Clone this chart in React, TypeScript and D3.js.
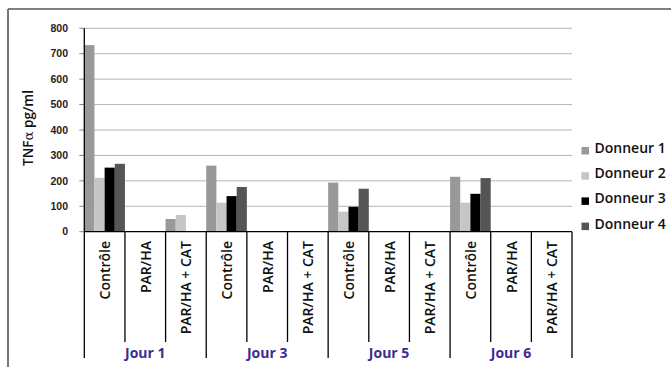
import React from "react";
import * as d3 from "d3";

// Days, treatments and donors
const groups = ["Jour 1", "Jour 3", "Jour 5", "Jour 6"];
const treatments = ["Contrôle", "PAR/HA", "PAR/HA + CAT"];
const donors = ["Donneur 1", "Donneur 2", "Donneur 3", "Donneur 4"];

// TNFα (pg/ml) per category (day × treatment), null = no measurement
const donneur1 = [734, null, 50, 260, null, null, 193, null, null, 216, null, null];
const donneur2 = [212, null, 66, 114, null, null, 79, null, null, 114, null, null];
const donneur3 = [252, null, null, 140, null, null, 98, null, null, 149, null, null];
const donneur4 = [267, null, null, 176, null, null, 169, null, null, 211, null, null];

const yTicks = [0, 100, 200, 300, 400, 500, 600, 700, 800];

const seriesValues = [donneur1, donneur2, donneur3, donneur4];
const colors = ["#999999", "#c6c6c6", "#000000", "#555555"];

const W = 671;
const H = 367;
const left = 84.3;
const right = 572;
const top = 28.3;
const bottom = 231.7;

const categories = groups.flatMap((g) => treatments.map((t) => `${g}|${t}`));

export default function App() {
  const x = d3.scaleBand<string>().domain(categories).range([left, right]).padding(0);
  const inner = d3.scaleBand<string>().domain(donors).range([0, x.bandwidth()]).padding(0);
  const y = d3.scaleLinear().domain([0, 800]).range([bottom, top]);

  const uiFont = "'Open Sans', 'DejaVu Sans', sans-serif";
  const numFont = "'Liberation Sans', Arial, sans-serif";

  return (
    <svg
      width={W}
      height={H}
      style={{ position: "absolute", left: 0, top: 0, background: "#fff" }}
    >
      {/* outer frame (top and left edges) */}
      <line x1={8} x2={W} y1={9} y2={9} stroke="#555" strokeWidth={1.6} />
      <line x1={8} x2={8} y1={9} y2={H} stroke="#555" strokeWidth={1.6} />

      {/* gridlines */}
      {yTicks
        .filter((t) => t > 0)
        .map((t) => (
          <line
            key={`g${t}`}
            x1={left}
            x2={right}
            y1={y(t)}
            y2={y(t)}
            stroke="#b5b5b5"
            strokeWidth={1}
          />
        ))}

      {/* bars */}
      {categories.map((c, ci) =>
        donors.map((d, di) => {
          const v = seriesValues[di][ci];
          if (v == null) return null;
          const x0 = (x(c) as number) + (inner(d) as number);
          return (
            <rect
              key={`${c}-${d}`}
              x={x0}
              y={y(v)}
              width={inner.bandwidth()}
              height={y(0) - y(v)}
              fill={colors[di]}
            />
          );
        })
      )}

      {/* y axis ticks and labels */}
      {yTicks.map((t) => (
        <g key={`t${t}`}>
          <line x1={left - 5} x2={left} y1={y(t)} y2={y(t)} stroke="#888" strokeWidth={1} />
          <text
            x={68}
            y={y(t)}
            dy="0.35em"
            textAnchor="end"
            fontFamily={numFont}
            fontWeight="bold"
            fontSize={10.5}
            fill="#222"
          >
            {t}
          </text>
        </g>
      ))}

      {/* y axis title */}
      <text
        transform={`translate(33, ${(top + bottom) / 2 - 2}) rotate(-90)`}
        textAnchor="middle"
        fontFamily={uiFont}
        fontWeight={600}
        fontSize={13.5}
        fill="#111"
      >
        TNF<tspan fontFamily="'DejaVu Serif', serif" fontWeight="normal">α</tspan> pg/ml
      </text>

      {/* axes lines */}
      <line x1={left} x2={right} y1={bottom} y2={bottom} stroke="#000" strokeWidth={1.3} />
      <line x1={left} x2={left} y1={top} y2={358} stroke="#000" strokeWidth={1.3} />

      {/* category separators and labels */}
      {categories.map((c, ci) => {
        const xr = (x(c) as number) + x.bandwidth();
        const isGroupEnd = (ci + 1) % treatments.length === 0;
        const cx = (x(c) as number) + x.bandwidth() / 2;
        const label = c.split("|")[1];
        return (
          <g key={`c${c}`}>
            <line
              x1={xr}
              x2={xr}
              y1={bottom}
              y2={isGroupEnd ? 358 : 342}
              stroke="#000"
              strokeWidth={1.3}
            />
            <text
              transform={`translate(${cx + 5.5}, 241) rotate(-90)`}
              textAnchor="end"
              fontFamily={uiFont}
              fontWeight={600}
              fontSize={14}
              fill="#111"
            >
              {label}
            </text>
          </g>
        );
      })}

      {/* day labels */}
      {groups.map((g) => {
        const first = x(`${g}|${treatments[0]}`) as number;
        const last = (x(`${g}|${treatments[treatments.length - 1]}`) as number) + x.bandwidth();
        return (
          <text
            key={g}
            x={(first + last) / 2}
            y={358}
            textAnchor="middle"
            fontFamily={uiFont}
            fontWeight={700}
            fontSize={14}
            fill="#3d2c8d"
          >
            {g}
          </text>
        );
      })}

      {/* legend */}
      {donors.map((d, i) => {
        const by = 153 + i * 25.2;
        return (
          <g key={`l${d}`}>
            <rect x={581.5} y={by - 6} width={7.5} height={7.5} fill={colors[i]} />
            <text
              x={594.5}
              y={by}
              fontFamily={uiFont}
              fontWeight={600}
              fontSize={14}
              fill="#111"
            >
              {d}
            </text>
          </g>
        );
      })}
    </svg>
  );
}
